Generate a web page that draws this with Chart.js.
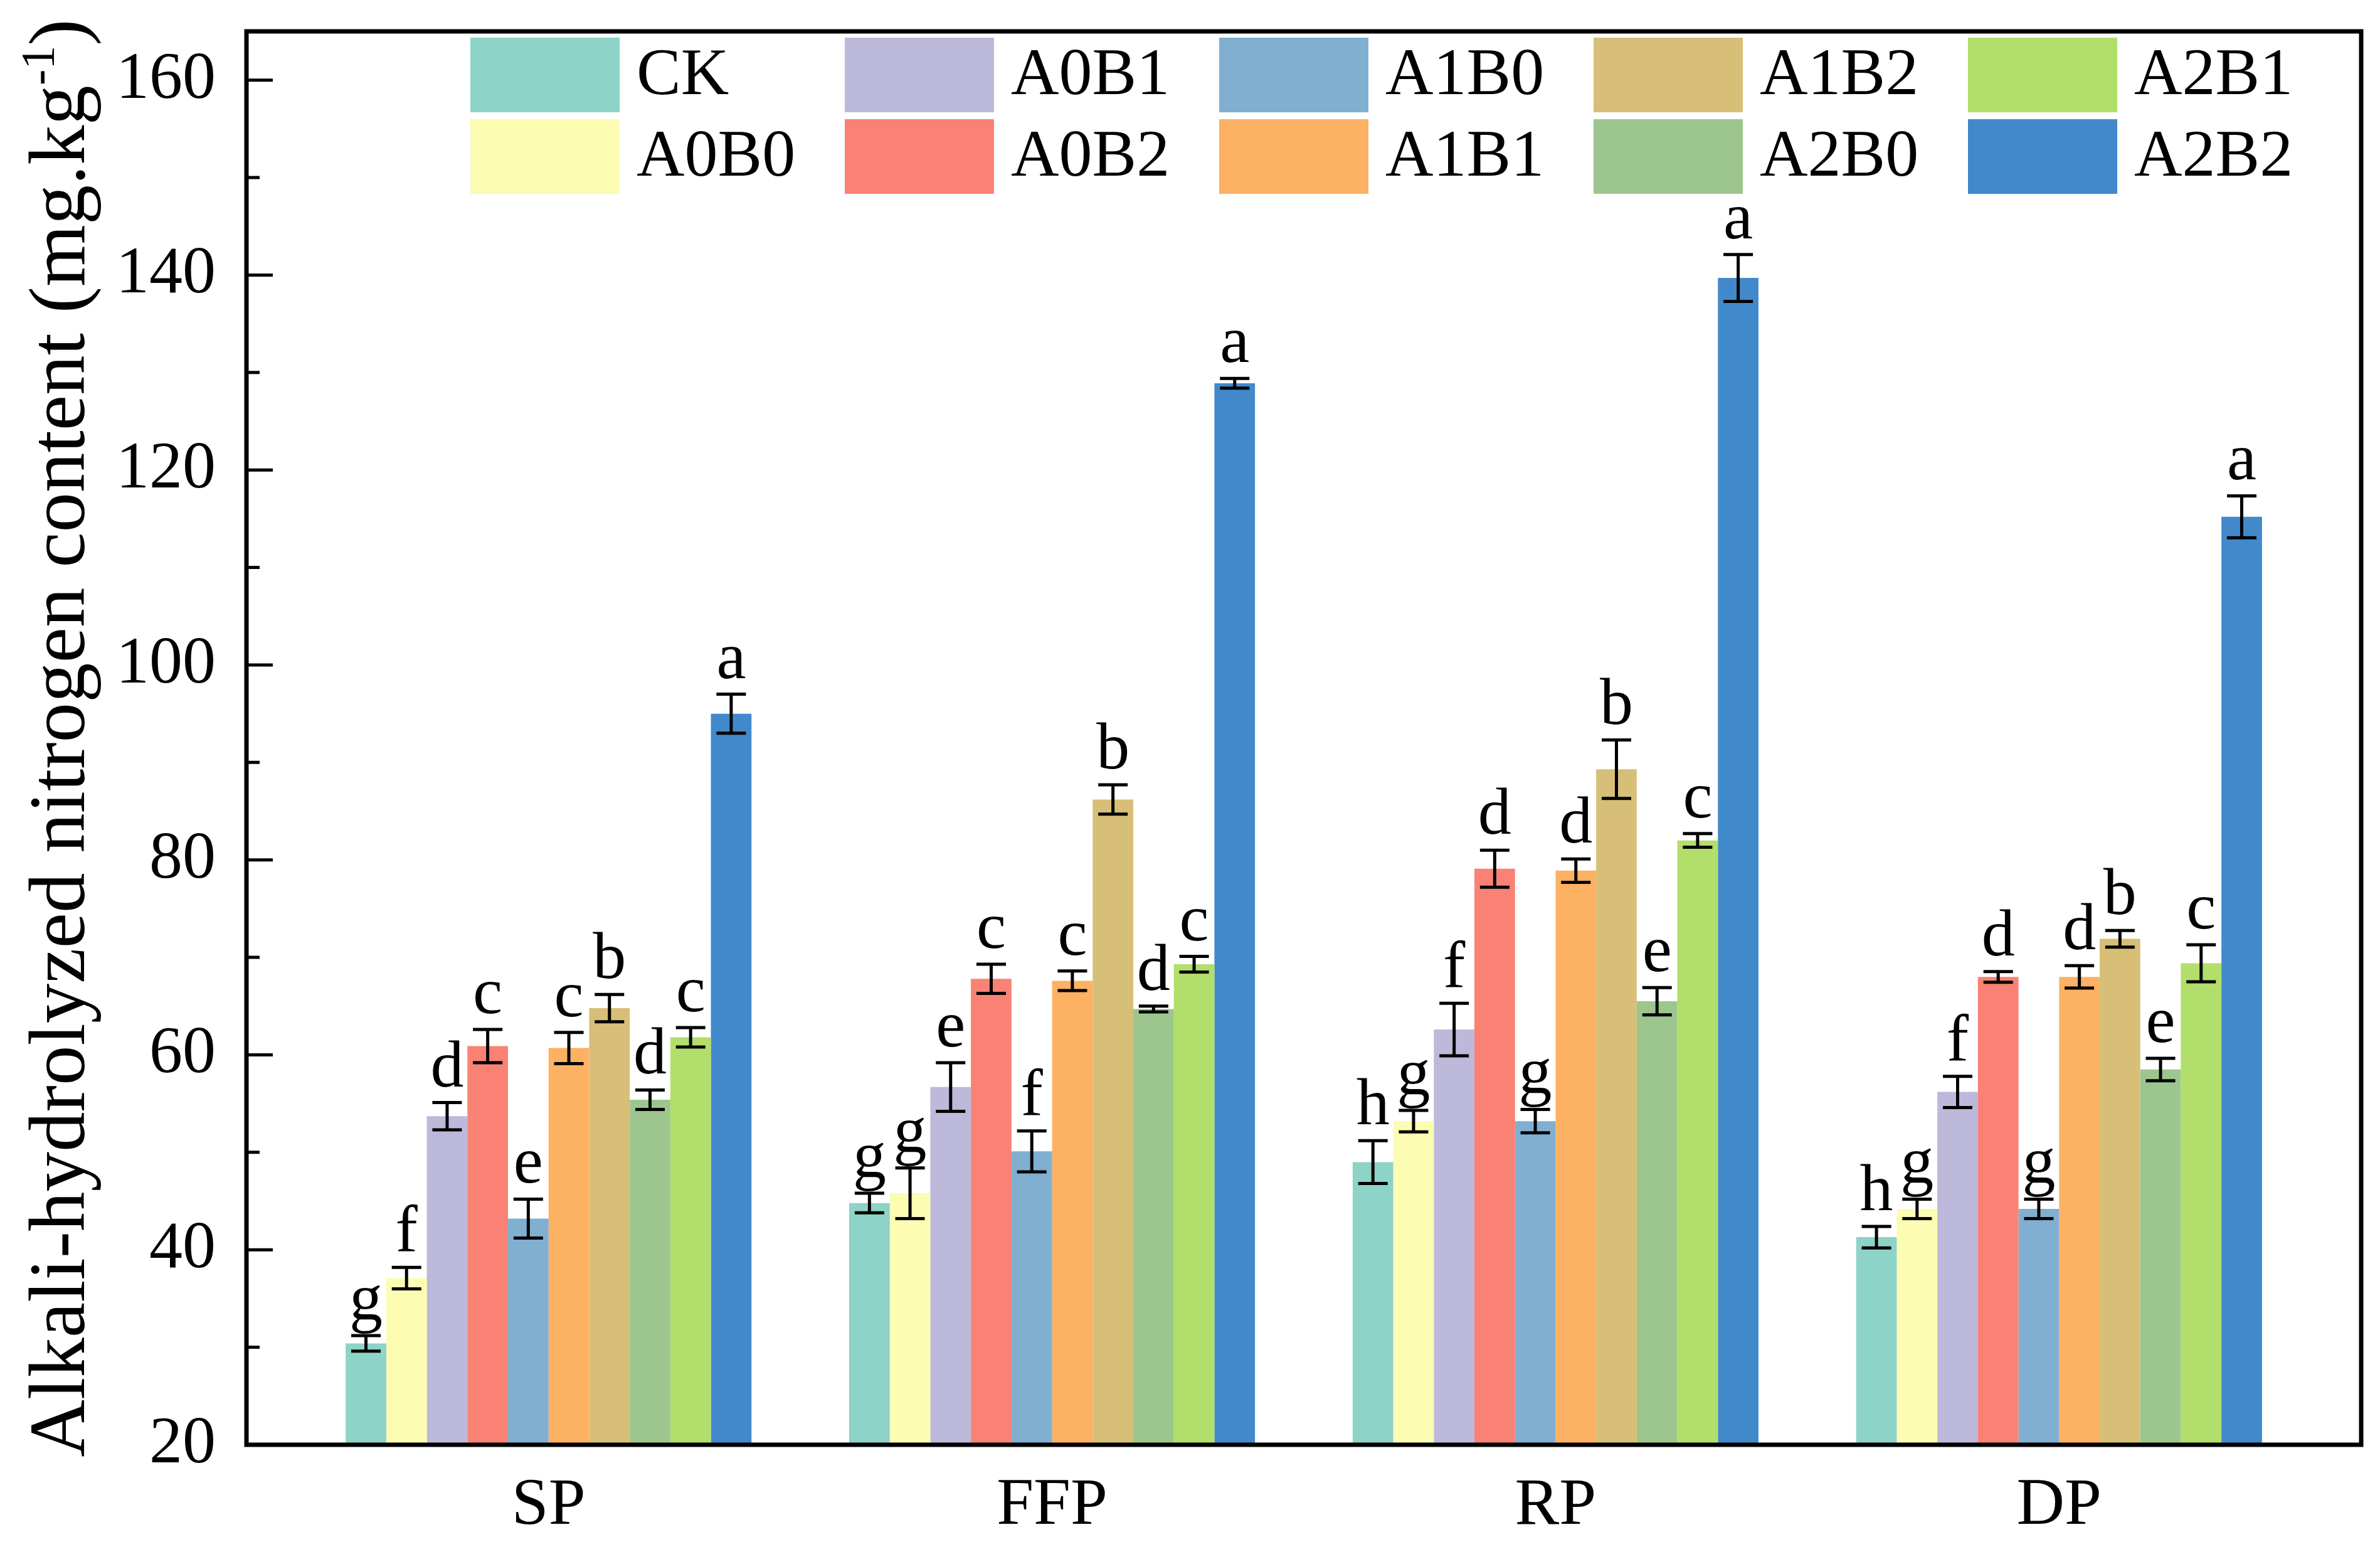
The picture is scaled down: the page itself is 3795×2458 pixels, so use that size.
<!DOCTYPE html>
<html>
<head>
<meta charset="utf-8">
<script src="https://cdn.jsdelivr.net/npm/chart.js@4.4.1/dist/chart.umd.min.js"></script>
<style>
  html, body { margin: 0; padding: 0; background: #fff; }
  #wrap { width: 3795px; height: 2458px; position: relative; }
</style>
</head>
<body>
<div id="wrap"><canvas id="myChart"></canvas></div>
<script>
// groups on the x axis and treatments (one dataset each)
const groups = ['SP', 'FFP', 'RP', 'DP'];
const treatments = ['CK', 'A0B0', 'A0B1', 'A0B2', 'A1B0', 'A1B1', 'A1B2', 'A2B0', 'A2B1', 'A2B2'];
const colors = ['#8DD3C7', '#FCFCB3', '#BCB9DA', '#F98274', '#80AFD1', '#FCB163', '#D7BF77', '#9CC68E', '#B2DE6B', '#4189CB'];

// means per group, treatment order as above
const spMeans  = [30.4, 37.1, 53.7, 60.9, 43.2, 60.7, 64.8, 55.4, 61.8, 95.0];
const ffpMeans = [44.8, 45.8, 56.7, 67.8, 50.1, 67.6, 86.2, 64.7, 69.3, 128.9];
const rpMeans  = [49.0, 53.2, 62.6, 79.1, 53.2, 78.9, 89.3, 65.5, 82.0, 139.7];
const dpMeans  = [41.3, 44.2, 56.2, 68.0, 44.2, 68.0, 71.9, 58.5, 69.4, 115.2];

// error bars (+/-)
const spErr  = [0.8, 1.1, 1.4, 1.7, 2.0, 1.6, 1.4, 1.0, 1.0, 2.0];
const ffpErr = [1.0, 2.6, 2.5, 1.5, 2.1, 1.0, 1.5, 0.3, 0.8, 0.5];
const rpErr  = [2.2, 1.1, 2.7, 1.9, 1.2, 1.2, 3.0, 1.4, 0.7, 2.4];
const dpErr  = [1.1, 1.0, 1.6, 0.55, 1.0, 1.15, 0.85, 1.15, 1.9, 2.15];

// significance letters
const spLetters  = ['g', 'f', 'd', 'c', 'e', 'c', 'b', 'd', 'c', 'a'];
const ffpLetters = ['g', 'g', 'e', 'c', 'f', 'c', 'b', 'd', 'c', 'a'];
const rpLetters  = ['h', 'g', 'f', 'd', 'g', 'd', 'b', 'e', 'c', 'a'];
const dpLetters  = ['h', 'g', 'f', 'd', 'g', 'd', 'b', 'e', 'c', 'a'];

const yTicks = [20, 40, 60, 80, 100, 120, 140, 160];
const yMinor = [30, 50, 70, 90, 110, 130, 150];
const yTitle = 'Alkali-hydrolyzed nitrogen content (mg.kg';

const FONT = "'Liberation Serif', 'Times New Roman', serif";

const means = [spMeans, ffpMeans, rpMeans, dpMeans];
const errs = [spErr, ffpErr, rpErr, dpErr];
const letters = [spLetters, ffpLetters, rpLetters, dpLetters];

const datasets = treatments.map((t, k) => ({
    label: t,
    data: groups.map((g, i) => ({ x: i + 1, y: means[i][k] })),
    backgroundColor: colors[k],
    borderWidth: 0,
    categoryPercentage: 0.806,
    barPercentage: 1.0
}));

// error bars + letters above each bar
const errorBarPlugin = {
    id: 'errorBars',
    afterDatasetsDraw(chart) {
        const ctx = chart.ctx;
        const y = chart.scales.y;
        ctx.save();
        ctx.strokeStyle = '#000';
        ctx.lineWidth = 5;
        ctx.fillStyle = '#000';
        ctx.font = '106px ' + FONT;
        ctx.textAlign = 'center';
        ctx.textBaseline = 'alphabetic';
        chart.data.datasets.forEach((ds, k) => {
            const meta = chart.getDatasetMeta(k);
            meta.data.forEach((bar, i) => {
                const m = means[i][k], e = errs[i][k];
                const top = y.getPixelForValue(m + e);
                const bot = y.getPixelForValue(m - e);
                const half = 23.5;
                ctx.beginPath();
                ctx.moveTo(bar.x, top); ctx.lineTo(bar.x, bot);
                ctx.moveTo(bar.x - half, top); ctx.lineTo(bar.x + half, top);
                ctx.moveTo(bar.x - half, bot); ctx.lineTo(bar.x + half, bot);
                ctx.stroke();
                ctx.fillText(letters[i][k], bar.x, top - 26);
            });
        });
        ctx.restore();
    }
};

// frame, inward ticks, legend inside plot, rotated y title
const framePlugin = {
    id: 'frame',
    afterDraw(chart) {
        const ctx = chart.ctx;
        const a = chart.chartArea;
        const y = chart.scales.y;
        ctx.save();
        ctx.strokeStyle = '#000';
        ctx.lineWidth = 7;
        ctx.strokeRect(a.left, a.top, a.right - a.left, a.bottom - a.top);

        ctx.lineWidth = 5;
        ctx.beginPath();
        yTicks.forEach(v => {
            const p = y.getPixelForValue(v);
            ctx.moveTo(a.left, p); ctx.lineTo(a.left + 42, p);
        });
        yMinor.forEach(v => {
            const p = y.getPixelForValue(v);
            ctx.moveTo(a.left, p); ctx.lineTo(a.left + 21, p);
        });
        ctx.stroke();

        // legend: 2 rows x 5 columns, column-major
        ctx.font = '106px ' + FONT;
        ctx.textAlign = 'left';
        ctx.textBaseline = 'middle';
        treatments.forEach((t, k) => {
            const col = Math.floor(k / 2), row = k % 2;
            const x0 = a.left + 357 + col * 597;
            const y0 = a.top + 10 + row * 130;
            ctx.fillStyle = colors[k];
            ctx.fillRect(x0, y0, 238, 119);
            ctx.fillStyle = '#000';
            ctx.fillText(t, x0 + 265, y0 + 62);
        });

        // y axis title with superscript
        const big = '127px ' + FONT, small = '76px ' + FONT;
        ctx.font = big;
        const w1 = ctx.measureText(yTitle).width;
        const w3 = ctx.measureText(')').width;
        ctx.font = small;
        const w2 = ctx.measureText('-1').width;
        const total = w1 + w2 + w3;
        const cy = (a.top + a.bottom) / 2;
        ctx.translate(134, cy);
        ctx.rotate(-Math.PI / 2);
        ctx.textAlign = 'left';
        ctx.textBaseline = 'alphabetic';
        let x = -total / 2;
        ctx.font = big;
        ctx.fillText(yTitle, x, 0);
        x += w1;
        ctx.font = small;
        ctx.fillText('-1', x, -48);
        x += w2;
        ctx.font = big;
        ctx.fillText(')', x, 0);
        ctx.restore();
    }
};

new Chart(document.getElementById('myChart'), {
    type: 'bar',
    data: { datasets: datasets },
    plugins: [errorBarPlugin, framePlugin],
    options: {
        responsive: true,
        maintainAspectRatio: false,
        animation: false,
        devicePixelRatio: 1,
        layout: { padding: { top: 50, right: 30, left: 0, bottom: 0 } },
        plugins: {
            legend: { display: false },
            tooltip: { enabled: false },
            title: { display: false }
        },
        scales: {
            x: {
                type: 'linear',
                min: 0.4,
                max: 4.6,
                offset: false,
                grid: { display: false, drawTicks: false },
                border: { display: false },
                afterBuildTicks: axis => { axis.ticks = groups.map((g, i) => ({ value: i + 1 })); },
                afterFit: axis => { axis.height = 155; axis.paddingLeft = 0; axis.paddingRight = 0; },
                ticks: {
                    autoSkip: false,
                    maxRotation: 0,
                    padding: 35,
                    color: '#000',
                    font: { family: FONT, size: 106 },
                    callback: v => groups[Math.round(v) - 1]
                }
            },
            y: {
                min: 20,
                max: 165,
                grid: { display: false, drawTicks: false },
                border: { display: false },
                afterBuildTicks: axis => { axis.ticks = yTicks.map(v => ({ value: v })); },
                afterFit: axis => { axis.width = 393; axis.paddingTop = 0; axis.paddingBottom = 0; },
                ticks: {
                    padding: 49,
                    color: '#000',
                    font: { family: FONT, size: 106 }
                }
            }
        }
    }
});
</script>
</body>
</html>
